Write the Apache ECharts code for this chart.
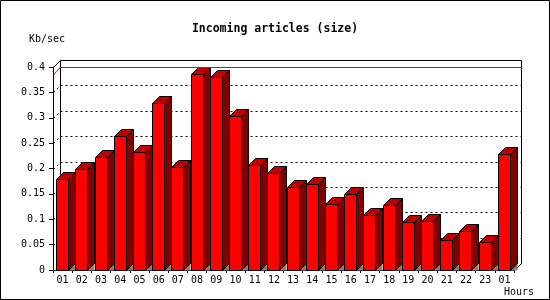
<!DOCTYPE html>
<html>
<head>
<meta charset="utf-8">
<script src="https://cdn.jsdelivr.net/npm/echarts@6/dist/echarts.min.js"></script>
<style>
html,body{margin:0;padding:0;background:#fff;}
#chart{width:550px;height:300px;}
</style>
</head>
<body>
<div id="chart"></div>
<script>
const hours = ['01','02','03','04','05','06','07','08','09','10','11','12','13','14','15','16','17','18','19','20','21','22','23','01'];
const sizeKbSec = [0.180,0.200,0.222,0.265,0.233,0.330,0.202,0.387,0.380,0.304,0.206,0.192,0.163,0.169,0.131,0.149,0.108,0.129,0.094,0.096,0.060,0.076,0.056,0.228];
const gridValues = [0.05,0.10,0.15,0.20,0.25,0.30,0.35];
const yMax = 0.4;
const yInterval = 0.05;

const DEPTH = 7;
const FONT = '"DejaVu Sans Mono", monospace';
const maxValue = Math.max.apply(null, sizeKbSec);

const chart = echarts.init(document.getElementById('chart'), null, {renderer: 'canvas'});

function snap(v){ return Math.round(v) + 0.5; }

const option = {
  animation: false,
  backgroundColor: '#ffffff',
  title: {
    text: 'Incoming articles (size)',
    left: 'center',
    top: 18,
    textStyle: {fontFamily: FONT, fontSize: 11.5, fontWeight: 'bold', color: '#000'}
  },
  grid: {left: 53, right: 36, top: 67, bottom: 30, containLabel: false, outerBoundsMode: 'none'},
  xAxis: {
    type: 'category',
    data: hours,
    boundaryGap: true,
    axisLine: {show: true, lineStyle: {color: '#000', width: 1}},
    axisTick: {show: true, length: 3, alignWithLabel: false, lineStyle: {color: '#000'}},
    axisLabel: {fontFamily: FONT, fontSize: 10, color: '#000', margin: 5, interval: 0},
    splitLine: {show: false}
  },
  yAxis: {
    type: 'value',
    min: 0,
    max: yMax,
    interval: yInterval,
    axisLine: {show: true, lineStyle: {color: '#000', width: 1}},
    axisTick: {show: true, length: 4, lineStyle: {color: '#000'}},
    axisLabel: {fontFamily: FONT, fontSize: 10, color: '#000', margin: 8},
    splitLine: {show: false}
  },
  series: [
    {
      type: 'custom',
      name: 'frame',
      z: 1,
      clip: false,
      silent: true,
      data: [[0, 0]],
      renderItem: function(params, api){
        const cs = params.coordSys;
        const x0 = snap(cs.x), x1 = snap(cs.x + cs.width);
        const yTop = snap(cs.y), yBot = snap(cs.y + cs.height);
        const d = DEPTH;
        const children = [];
        children.push({type: 'polyline', shape: {points: [[x0 + d, yBot - d], [x0 + d, yTop - d], [x1 + d, yTop - d], [x1 + d, yBot - d], [x1, yBot]]}, style: {stroke: '#000', fill: null, lineWidth: 1}});
        children.push({type: 'line', shape: {x1: x0, y1: yTop, x2: x0 + d, y2: yTop - d}, style: {stroke: '#000', lineWidth: 1}});
        gridValues.forEach(function(v){
          const p = api.coord([0, v]);
          const y = snap(p[1]);
          children.push({type: 'line', shape: {x1: x0 + d, y1: y - d, x2: x1 + d, y2: y - d}, style: {stroke: '#000', lineWidth: 1, lineDash: [2, 3]}});
          children.push({type: 'line', shape: {x1: x0, y1: y, x2: x0 + d, y2: y - d}, style: {stroke: '#000', lineWidth: 1, lineDash: [2, 3]}});
        });
        return {type: 'group', children: children};
      }
    },
    {
      type: 'custom',
      name: 'size',
      z: 3,
      clip: false,
      data: sizeKbSec.map(function(v, i){ return [i, v]; }),
      renderItem: function(params, api){
        const idx = api.value(0);
        const base = api.coord([idx, 0]);
        const top = api.coord([idx, api.value(1)]);
        const bw = api.size([1, 0])[0];
        const w = Math.round(bw * 0.6);
        const d = DEPTH;
        const xL = Math.floor(base[0] - w / 2) + 0.5;
        const xR = xL + w;
        const y0 = snap(base[1]);
        const yt = snap(top[1]);
        return {
          type: 'group',
          children: [
            {type: 'polygon', shape: {points: [[xR, y0], [xR + d, y0 - d], [xR + d, y0]]}, style: {fill: '#808080', stroke: null}},
            {type: 'polygon', shape: {points: [[xR, yt], [xR + d, yt - d], [xR + d, y0 - d], [xR, y0]]}, style: {fill: '#800000', stroke: '#000', lineWidth: 1}},
            {type: 'polygon', shape: {points: [[xL, yt], [xL + d, yt - d], [xR + d, yt - d], [xR, yt]]}, style: {fill: '#c00000', stroke: '#000', lineWidth: 1}},
            {type: 'rect', shape: {x: xL, y: yt, width: w, height: y0 - yt}, style: {fill: '#ff0000', stroke: '#000', lineWidth: 1}}
          ]
        };
      }
    }
  ]
};
chart.setOption(option);

// red line at the maximum value, placed with the chart's own scales
const pLeft = chart.convertToPixel({gridIndex: 0}, [0, maxValue]);
const pRightEdge = chart.convertToPixel({xAxisIndex: 0}, hours.length - 1);
const bandPx = chart.convertToPixel({xAxisIndex: 0}, 1) - chart.convertToPixel({xAxisIndex: 0}, 0);
const xStart = Math.round(pLeft[0] - bandPx / 2);
const xEnd = Math.round(pRightEdge + bandPx / 2);
const yMaxPx = Math.round(pLeft[1]);
chart.setOption({
  graphic: [
    {type: 'rect', shape: {x: 0.5, y: 0.5, width: 549, height: 299}, style: {fill: 'none', stroke: '#000', lineWidth: 1}, z: 100},
    {type: 'text', left: 29, top: 34, style: {text: 'Kb/sec', font: '10px ' + FONT, fill: '#000'}},
    {type: 'text', left: 504, top: 287, style: {text: 'Hours', font: '10px ' + FONT, fill: '#000'}},
    {type: 'rect', z: 50, shape: {x: xStart + DEPTH, y: yMaxPx - DEPTH, width: xEnd - xStart + 1, height: 1}, style: {fill: '#ff0000', stroke: null}},
    {type: 'polygon', z: 50, shape: {points: [[xStart, yMaxPx + 1], [xStart + DEPTH, yMaxPx - DEPTH], [xStart + DEPTH + 1, yMaxPx - DEPTH], [xStart + 1, yMaxPx + 1]]}, style: {fill: '#ff0000', stroke: null}}
  ]
});
</script>
</body>
</html>
